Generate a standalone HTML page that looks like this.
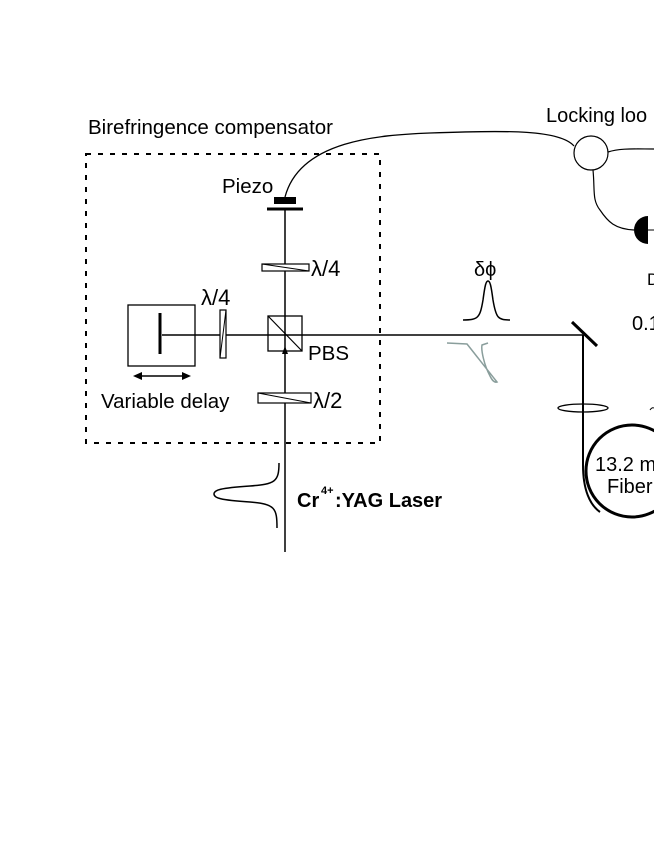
<!DOCTYPE html>
<html><head><style>
body{margin:0;background:#fff}
svg{display:block}
text{font-family:"Liberation Sans",sans-serif;fill:#000}
</style></head><body>
<svg width="654" height="846" viewBox="0 0 654 846" xmlns="http://www.w3.org/2000/svg">
<rect x="86" y="154" width="294" height="289" fill="none" stroke="#000" stroke-width="2" stroke-dasharray="5,7"/>
<text x="88" y="134" font-size="20.5">Birefringence compensator</text>
<text x="546" y="122" font-size="20">Locking loo</text>
<path d="M285,197 C300,140 380,135 430,133 C510,130 560,130 574,146" fill="none" stroke="#000" stroke-width="1.3"/>
<circle cx="591" cy="153" r="17" fill="#fff" stroke="#000" stroke-width="1.2"/>
<path d="M608,152 C620,148 635,149 654,149" fill="none" stroke="#000" stroke-width="1.2"/>
<path d="M593,170 C595,190 592,200 600,210 C608,222 615,229 634,230" fill="none" stroke="#000" stroke-width="1.2"/>
<path d="M648,216 A14,14 0 0 0 648,244 Z" fill="#000"/>
<line x1="648" y1="230" x2="654" y2="230" stroke="#000"/>
<text x="647" y="285" font-size="17">D</text>
<text x="632" y="330" font-size="20">0.1</text>
<text x="222" y="193" font-size="20.5">Piezo</text>
<rect x="274" y="197" width="22" height="7" fill="#000"/>
<line x1="267" y1="209" x2="303" y2="209" stroke="#000" stroke-width="3"/>
<line x1="285" y1="210" x2="285" y2="552" stroke="#000" stroke-width="1.5"/>
<rect x="262" y="264" width="47" height="7" fill="#fff" stroke="#000" stroke-width="1.2"/>
<line x1="262" y1="264" x2="309" y2="271" stroke="#000"/>
<text x="311" y="276" font-size="22" font-family="Liberation Serif">λ/4</text>
<line x1="162" y1="335" x2="583" y2="335" stroke="#000" stroke-width="1.5"/>
<rect x="128" y="305" width="67" height="61" fill="none" stroke="#000" stroke-width="1.3"/>
<line x1="160" y1="313" x2="160" y2="354" stroke="#000" stroke-width="3"/>
<line x1="136" y1="376" x2="188" y2="376" stroke="#000" stroke-width="1.5"/>
<path d="M133,376 l9,-4 v8 z M191,376 l-9,-4 v8 z" fill="#000"/>
<text x="101" y="408" font-size="20.5">Variable delay</text>
<rect x="220" y="310" width="6" height="48" fill="#fff" stroke="#000" stroke-width="1.2"/>
<line x1="226" y1="310" x2="220" y2="358" stroke="#000"/>
<text x="201" y="305" font-size="22" font-family="Liberation Serif">λ/4</text>
<rect x="268" y="316" width="34" height="35" fill="none" stroke="#000" stroke-width="1.3"/>
<line x1="268" y1="316" x2="302" y2="351" stroke="#000" stroke-width="1.2"/>
<path d="M285,346 l-3,8 h6 z" fill="#000"/>
<text x="308" y="360" font-size="20.5">PBS</text>
<rect x="258" y="393" width="53" height="10" fill="#fff" stroke="#000" stroke-width="1.2"/>
<line x1="258" y1="393" x2="311" y2="403" stroke="#000"/>
<text x="313" y="408" font-size="22" font-family="Liberation Serif">λ/2</text>
<text x="474" y="276" font-size="20" font-family="Liberation Serif">δϕ</text>
<path d="M463,320 C478,320 480,318 483,300 C485,285 486,281 488,281 C490,281 491,285 493,300 C496,318 498,320 510,320" fill="none" stroke="#000" stroke-width="1.5"/>
<path d="M447,343 L467,344 C475,354 485,367 497,382 C494,383 492,380 490,376 C484,365 481,350 482,345 L488,343" fill="none" stroke="#8a9e9c" stroke-width="1.5"/>
<line x1="572" y1="322" x2="597" y2="346" stroke="#000" stroke-width="3"/>
<path d="M583,335 V465 C583,490 590,505 600,512" fill="none" stroke="#000" stroke-width="2"/>
<ellipse cx="583" cy="408" rx="25" ry="4" fill="none" stroke="#000" stroke-width="1.3"/>
<circle cx="632" cy="471" r="46" fill="none" stroke="#000" stroke-width="3"/>
<text x="595" y="471" font-size="20">13.2 m</text>
<text x="607" y="493" font-size="20">Fiber</text>
<path d="M650,410 q2,-3 4,-2" fill="none" stroke="#000"/>
<path d="M279,463 C279,482 275,484 250,486 C220,488 214,490 214,494 C214,498 220,500 250,502 C275,504 277,508 277,528" fill="none" stroke="#000" stroke-width="1.5"/>
<text x="297" y="507" font-size="20" font-weight="bold">Cr</text>
<text x="321" y="494" font-size="11" font-weight="bold">4+</text>
<text x="335" y="507" font-size="20" font-weight="bold">:YAG Laser</text>
</svg>
</body></html>
